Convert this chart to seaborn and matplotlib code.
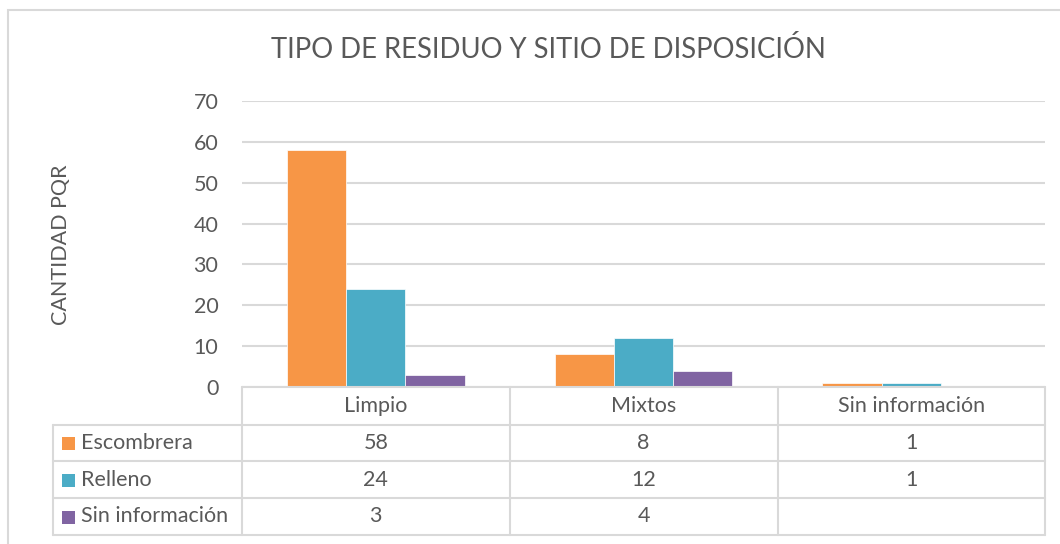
import matplotlib
matplotlib.use("Agg")
import matplotlib.pyplot as plt
import seaborn as sns
import pandas as pd
from matplotlib.patches import Rectangle
from matplotlib.lines import Line2D
import matplotlib.transforms as mtransforms

categories = ["Limpio", "Mixtos", "Sin información"]
series = ["Escombrera", "Relleno", "Sin información"]
escombrera = [58, 8, 1]
relleno = [24, 12, 1]
sin_info = [3, 4, None]
colors = ["#F79646", "#4BACC6", "#8064A2"]

sns.set_theme(style="white")
plt.rcParams["font.family"] = ["Lato", "DejaVu Sans"]
TXT = "#595959"
GRID = "#D9D9D9"
FS = 15.5

rows = []
for s, vals in zip(series, [escombrera, relleno, sin_info]):
    for c, v in zip(categories, vals):
        rows.append({"cat": c, "serie": s, "val": v if v is not None else 0})
df = pd.DataFrame(rows)

W, H = 1060, 544
fig = plt.figure(figsize=(W / 100, H / 100), dpi=100)
L, R, T, B = 242, 1045, 101, 387
ax = fig.add_axes([L / W, 1 - B / H, (R - L) / W, (B - T) / H])

sns.barplot(data=df, x="cat", y="val", hue="serie", order=categories,
            hue_order=series, palette=colors, width=0.665, ax=ax,
            saturation=1, legend=False, edgecolor="white", linewidth=0.5)

ax.set_ylim(0, 70)
ax.set_yticks(range(0, 71, 10))
ax.yaxis.grid(True, color=GRID, linewidth=1.5)
ax.set_axisbelow(True)
for sp in ax.spines.values():
    sp.set_visible(False)
ax.set_xlabel("")
ax.set_ylabel("")
ax.set_xticks([])
ax.tick_params(axis="y", length=0, pad=17, labelsize=FS, labelcolor=TXT)
ax.set_xlim(-0.5, 2.5)

# y label
fig.text(61 / W, 1 - 245 / H, "CANTIDAD PQR", rotation=90, ha="center",
         va="center", fontsize=FS, color=TXT)
# title
fig.text(548 / W, 1 - 49 / H, "TIPO DE RESIDUO Y SITIO DE DISPOSICIÓN",
         ha="center", va="center", fontsize=19.8, color=TXT)

# outer chart border
fig.add_artist(Rectangle((8 / W, -0.01), 1.05, 1 - 10 / H + 0.01,
                         transform=fig.transFigure, fill=False,
                         edgecolor=GRID, linewidth=1.5))

# data table
def fx(px):
    return px / W

def fy(py):
    return 1 - py / H

row_y = [387, 425, 461, 498, 535]
col_x = [242, 510, 778, 1045]
lw = 1.5
fig.add_artist(Line2D([fx(L), fx(R)], [fy(387), fy(387)], color=GRID, lw=lw))
for yy in row_y[1:]:
    fig.add_artist(Line2D([fx(53), fx(R)], [fy(yy), fy(yy)], color=GRID, lw=lw))
for xx in col_x:
    fig.add_artist(Line2D([fx(xx), fx(xx)], [fy(387), fy(535)], color=GRID, lw=lw))
fig.add_artist(Line2D([fx(53), fx(53)], [fy(425), fy(535)], color=GRID, lw=lw))

trans = mtransforms.blended_transform_factory(ax.transData, fig.transFigure)
for i, c in enumerate(categories):
    fig.text(i, fy((387 + 425) / 2), c, transform=trans, ha="center",
             va="center", fontsize=FS, color=TXT)

for r, (s, vals, col) in enumerate(zip(series, [escombrera, relleno, sin_info], colors)):
    yc = fy((row_y[r + 1] + row_y[r + 2]) / 2)
    fig.add_artist(Rectangle((fx(62), yc - 7 / H), 13 / W, 13 / H,
                             transform=fig.transFigure, color=col, lw=0))
    fig.text(fx(81), yc, s, ha="left", va="center", fontsize=FS, color=TXT)
    for i, v in enumerate(vals):
        if v is not None:
            fig.text(i, yc, str(v), transform=trans, ha="center",
                     va="center", fontsize=FS, color=TXT)

fig.savefig("out.png", dpi=100, facecolor="white")
